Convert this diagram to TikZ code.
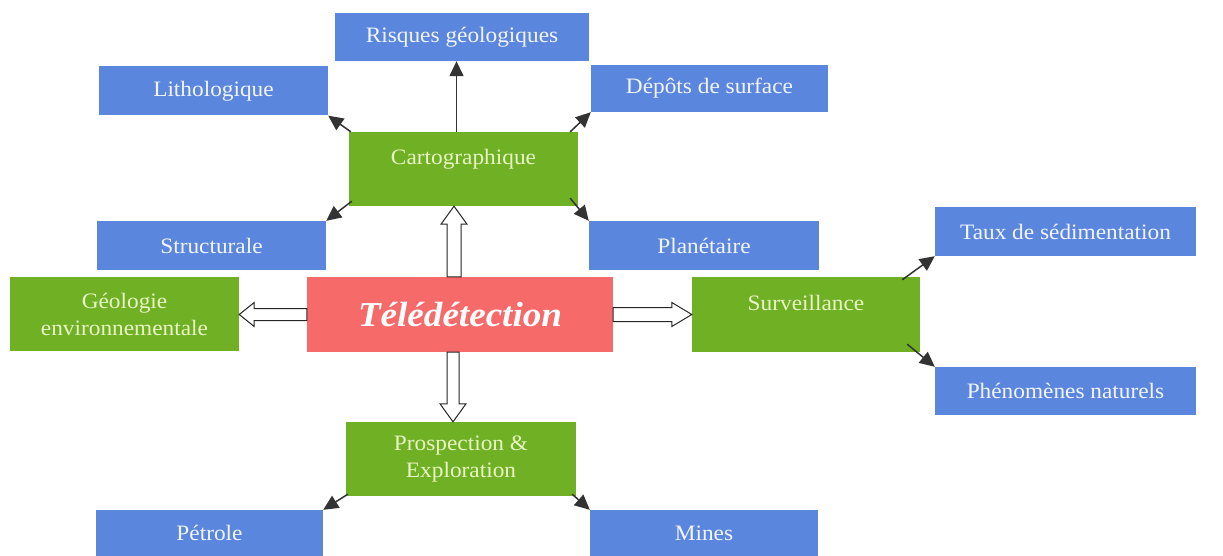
\documentclass[tikz,border=0pt]{standalone}
\usepackage{fontspec}
\setmainfont[FakeStretch=1.06]{Liberation Serif}
\usetikzlibrary{arrows.meta,calc}

\definecolor{boxblue}{HTML}{5B86DE}
\definecolor{boxgreen}{HTML}{6FB024}
\definecolor{boxred}{HTML}{F76A6A}
\definecolor{txtgreen}{HTML}{E8F5C4}
\definecolor{txtblue}{HTML}{F2F5FF}
\definecolor{arrowgray}{HTML}{333333}

\begin{document}
\begin{tikzpicture}[
  x=1pt, y=1pt,
  font=\fontsize{22}{27}\selectfont,
  leaf/.style={fill=boxblue, text=txtblue, minimum width=229pt,
               minimum height=49pt, inner sep=0pt, align=center},
  field/.style={fill=boxgreen, text=txtgreen, minimum width=229pt,
                minimum height=74pt, inner sep=0pt, align=center},
  raised/.style={text height=15pt, text depth=24pt},
  core/.style={fill=boxred, text=white, minimum width=306pt,
               minimum height=75pt, inner sep=0pt,
               font=\fontsize{35}{40}\selectfont\bfseries\itshape},
  link/.style={draw=arrowgray, line width=1.5pt,
               -{Triangle[length=15pt, width=14pt]}},
  hollow/.style={draw=black!85, line width=1pt, fill=white}
]
\path[use as bounding box, fill=white] (0,0) rectangle (1223,-556);

% centre
\node[core] (tele) at (460,-314.5) {Télédétection};

% cartographique branch
\node[field, raised] (carto) at (463.5,-169) {Cartographique};
\node[leaf, minimum width=254pt, minimum height=48pt] (risk) at (462,-37) {Risques géologiques};
\node[leaf] (litho) at (213.5,-91) {Lithologique};
\node[leaf, minimum width=237pt, minimum height=47pt] (depots) at (709.5,-88.5) {Dépôts de surface};
\node[leaf] (struct) at (211.5,-245.5) {Structurale};
\node[leaf, minimum width=230pt] (planet) at (704,-245.5) {Planétaire};

% left and right
\node[field] (geoenv) at (124.5,-314) {Géologie\\environnementale};
\node[field, raised, minimum width=228pt, minimum height=75pt] (surv) at (806,-314.5) {Surveillance};
\node[leaf, minimum width=261pt] (taux) at (1065.5,-231.5) {Taux de sédimentation};
\node[leaf, minimum width=261pt, minimum height=48pt] (pheno) at (1065.5,-391) {Phénomènes naturels};

% prospection branch
\node[field, minimum width=230pt] (prosp) at (461,-459) {Prospection \&\\Exploration};
\node[leaf, minimum width=227pt, minimum height=46pt] (petrole) at (209.5,-533) {Pétrole};
\node[leaf, minimum width=228pt, minimum height=46pt] (mines) at (704,-533) {Mines};

% thin arrows
\coordinate (c0) at ([xshift=-7pt]carto.north);
\draw[link] (c0) -- (c0 |- risk.south);
\draw[link] ([xshift=2pt]carto.north west) -- (litho.south east);
\draw[link] ([xshift=-8pt]carto.north east) -- (depots.south west);
\draw[link] ([xshift=3pt,yshift=5pt]carto.south west) -- (struct.north east);
\draw[link] ([xshift=-8pt,yshift=8pt]carto.south east) -- (planet.north west);
\draw[link] ([xshift=-18pt,yshift=-3pt]surv.north east) -- (taux.south west);
\draw[link] ([xshift=-13pt,yshift=8pt]surv.south east) -- (pheno.north west);
\draw[link] ([xshift=2pt,yshift=2pt]prosp.south west) -- (petrole.north east);
\draw[link] ([xshift=-4pt,yshift=2pt]prosp.south east) -- (mines.north west);

% hollow arrows from the centre
\coordinate (u0) at ([xshift=-6pt]tele.north);
\coordinate (u1) at (u0 |- carto.south);
\draw[hollow] ([xshift=-7pt]u0) -- ([shift={(-7pt,-18pt)}]u1) -- ([shift={(-13pt,-18pt)}]u1)
  -- (u1) -- ([shift={(13pt,-18pt)}]u1) -- ([shift={(7pt,-18pt)}]u1) -- ([xshift=7pt]u0) -- cycle;

\coordinate (d0) at ([xshift=-7pt]tele.south);
\coordinate (d1) at (d0 |- prosp.north);
\draw[hollow] ([xshift=-6pt]d0) -- ([shift={(-6pt,18pt)}]d1) -- ([shift={(-13pt,18pt)}]d1)
  -- (d1) -- ([shift={(13pt,18pt)}]d1) -- ([shift={(6pt,18pt)}]d1) -- ([xshift=6pt]d0) -- cycle;

\coordinate (l0) at (tele.west);
\coordinate (l1) at (geoenv.east |- l0);
\draw[hollow] ([yshift=6pt]l0) -- ([shift={(15pt,6pt)}]l1) -- ([shift={(15pt,12pt)}]l1)
  -- (l1) -- ([shift={(15pt,-12pt)}]l1) -- ([shift={(15pt,-6pt)}]l1) -- ([yshift=-6pt]l0) -- cycle;

\coordinate (r0) at (tele.east);
\coordinate (r1) at (surv.west |- r0);
\draw[hollow] ([yshift=7pt]r0) -- ([shift={(-20pt,7pt)}]r1) -- ([shift={(-20pt,12pt)}]r1)
  -- (r1) -- ([shift={(-20pt,-12pt)}]r1) -- ([shift={(-20pt,-7pt)}]r1) -- ([yshift=-7pt]r0) -- cycle;
\end{tikzpicture}
\end{document}
